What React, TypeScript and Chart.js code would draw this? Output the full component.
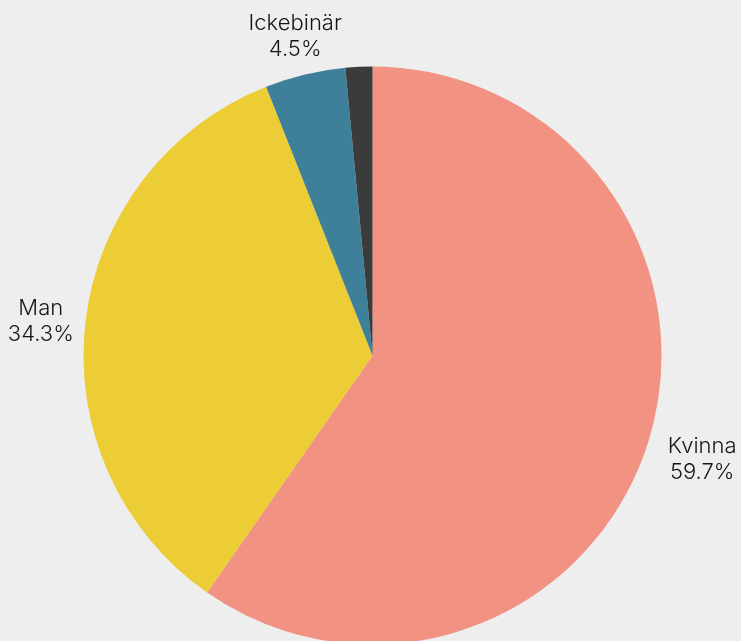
import React, { useEffect, useRef } from "react";
import { Chart, registerables } from "chart.js";

Chart.register(...registerables);

const categories: string[] = ["Kvinna", "Man", "Ickebinär", "Vill ej svara"];
const shares: number[] = [59.7, 34.3, 4.5, 1.5];
const shareLabels: string[] = ["59.7%", "34.3%", "4.5%", ""];
const colors: string[] = ["#f29282", "#edcd35", "#3e8099", "#3b3b3b"];

const BG = "#eeeeee";
const FONT = "300 22px Inter, 'Open Sans', sans-serif";

const bgPlugin = {
  id: "bgFill",
  beforeDraw(chart: any) {
    const { ctx, width, height } = chart;
    ctx.save();
    ctx.fillStyle = BG;
    ctx.fillRect(0, 0, width, height);
    ctx.restore();
  },
};

const labelPlugin = {
  id: "outsideLabels",
  afterDatasetsDraw(chart: any) {
    const ctx = chart.ctx;
    const meta = chart.getDatasetMeta(0);
    ctx.save();
    ctx.font = FONT;
    ctx.fillStyle = "#161616";
    ctx.textAlign = "center";
    ctx.textBaseline = "middle";
    const lineH = 26;
    meta.data.forEach((arc: any, i: number) => {
      if (!shareLabels[i]) return;
      const { x, y, startAngle, endAngle, outerRadius } = arc.getProps(
        ["x", "y", "startAngle", "endAngle", "outerRadius"],
        true
      );
      const mid = (startAngle + endAngle) / 2;
      const c = Math.cos(mid);
      const s = Math.sin(mid);
      const lines = [categories[i], shareLabels[i]];
      const w = Math.max(...lines.map((l) => ctx.measureText(l).width));
      const h = lineH * lines.length;
      const g = 17;
      const cx = x + (outerRadius + g) * c + (w / 2) * c + 5;
      const cy = y + (outerRadius + g) * s + (h / 2) * s + 4;
      lines.forEach((l, k) => {
        ctx.fillText(l, cx, cy + (k - (lines.length - 1) / 2) * lineH);
      });
    });
    ctx.restore();
  },
};

export default function App() {
  const ref = useRef<HTMLCanvasElement | null>(null);
  useEffect(() => {
    if (!ref.current) return;
    const chart = new Chart(ref.current, {
      type: "pie",
      data: {
        labels: categories,
        datasets: [
          {
            data: shares,
            backgroundColor: colors,
            borderWidth: 0,
            radius: 289,
          } as any,
        ],
      },
      options: {
        animation: false,
        responsive: false,
        layout: { padding: { top: 70, bottom: 0, left: 4, right: 0 } },
        plugins: {
          legend: { display: false },
          tooltip: { enabled: false },
        },
      },
      plugins: [bgPlugin, labelPlugin],
    });
    return () => chart.destroy();
  }, []);
  return (
    <div style={{ position: "fixed", left: 0, top: 0, width: 741, height: 641, background: BG, overflow: "hidden" }}>
      <canvas ref={ref} width={741} height={641} style={{ display: "block", width: 741, height: 641 }} />
    </div>
  );
}
